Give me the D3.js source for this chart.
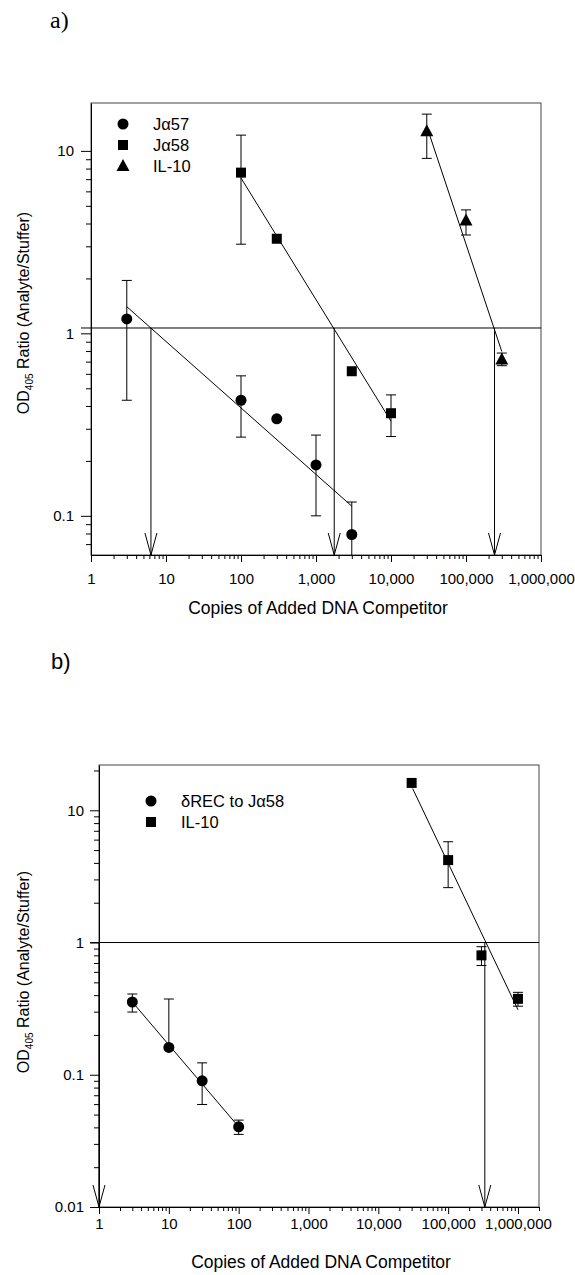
<!DOCTYPE html>
<html>
<head>
<meta charset="utf-8">
<script src="https://cdn.jsdelivr.net/npm/d3@7"></script>
<style>
  body { margin: 0; background: #fff; }
  svg { display: block; font-family: "Liberation Sans", Arial, sans-serif; }
</style>
</head>
<body>
<svg id="viz" width="575" height="1275"></svg>
<script>
// ---- panel a data ----
const ja57X = [3, 100, 300, 1000, 3000];
const ja57Y = [1.2, 0.43, 0.34, 0.19, 0.079];
const ja57Hi = [1.95, 0.585, null, 0.277, 0.119];
const ja57Lo = [0.43, 0.27, null, 0.1, 0.04];
const ja57Fit = [[3, 1.4], [3000, 0.113]];

const ja58X = [100, 300, 3000, 10000];
const ja58Y = [7.6, 3.3, 0.62, 0.365];
const ja58Hi = [12.2, null, null, 0.46];
const ja58Lo = [3.08, null, null, 0.272];
const ja58Fit = [[100, 7.1], [10000, 0.33]];

const il10aX = [30000, 100000, 300000];
const il10aY = [12.8, 4.15, 0.72];
const il10aHi = [15.9, 4.75, 0.78];
const il10aLo = [9.1, 3.46, 0.665];
const il10aFit = [[33000, 12.1], [300000, 0.795]];

const refA = 1.07;
const arrowsA = [6.3, 1750, 240000];

// ---- panel b data ----
const drecX = [3, 10, 30, 100];
const drecY = [0.355, 0.161, 0.09, 0.0404];
const drecHi = [0.408, 0.374, 0.123, 0.0454];
const drecLo = [0.298, null, 0.0596, 0.0354];
const drecFit = [[3, 0.355], [100, 0.0404]];

const il10bX = [30000, 100000, 300000, 1000000];
const il10bY = [16.1, 4.2, 0.8, 0.375];
const il10bHi = [null, 5.78, 0.93, 0.42];
const il10bLo = [null, 2.6, 0.67, 0.33];
const il10bFit = [[31000, 14.6], [1000000, 0.31]];

const refB = 1;
const arrowsB = [1, 335000];

// tick labels
const xTicksA = [1, 10, 100, 1000, 10000, 100000, 1000000];
const yTicksA = [0.1, 1, 10];
const xTicksB = [1, 10, 100, 1000, 10000, 100000, 1000000];
const yTicksB = [0.01, 0.1, 1, 10];

const svg = d3.select("#viz");

function minorTicks(domain) {
  const out = [];
  const lo = Math.floor(Math.log10(domain[0])), hi = Math.ceil(Math.log10(domain[1]));
  for (let e = lo; e <= hi; e++) {
    for (let m = 2; m <= 9; m++) {
      const v = +(m * Math.pow(10, e)).toPrecision(6);
      if (v >= domain[0] && v <= domain[1]) out.push(v);
    }
  }
  return out;
}

function fmtY(d) {
  return d >= 1 ? String(d) : String(+d.toPrecision(1));
}

function drawPanel(p) {
  const g = svg.append("g");
  const x = d3.scaleLog().domain(p.xDomain).range([p.left, p.right]);
  const y = d3.scaleLog().domain(p.yDomain).range([p.bottom, p.top]);

  const clipId = "clip" + p.id;
  g.append("clipPath").attr("id", clipId)
    .append("rect")
    .attr("x", p.left).attr("y", p.top)
    .attr("width", p.right - p.left).attr("height", p.bottom - p.top);

  // frame
  g.append("rect")
    .attr("x", p.left).attr("y", p.top)
    .attr("width", p.right - p.left).attr("height", p.bottom - p.top)
    .attr("fill", "none").attr("stroke", "#444").attr("stroke-width", 1);

  // axes
  g.append("g").attr("transform", `translate(0,${p.bottom})`)
    .call(d3.axisBottom(x).tickValues(p.xTicks).tickFormat(d3.format(","))
      .tickSize(7).tickPadding(p.xPad).tickSizeOuter(0));
  g.append("g").attr("transform", `translate(0,${p.bottom})`)
    .call(d3.axisBottom(x).tickValues(minorTicks(p.xDomain)).tickFormat("")
      .tickSize(4).tickSizeOuter(0))
    .select(".domain").remove();

  g.append("g").attr("transform", `translate(${p.left},0)`)
    .call(d3.axisLeft(y).tickValues(p.yTicks).tickFormat(fmtY)
      .tickSize(p.yTick).tickPadding(p.yPad).tickSizeOuter(0));
  g.append("g").attr("transform", `translate(${p.left},0)`)
    .call(d3.axisLeft(y).tickValues(minorTicks(p.yDomain)).tickFormat("")
      .tickSize(5).tickSizeOuter(0))
    .select(".domain").remove();

  g.selectAll(".tick text").attr("font-size", 15).attr("fill", "#000")
    .attr("font-family", "Liberation Sans, Arial, sans-serif");
  g.selectAll(".tick line, .domain").attr("stroke", "#000");

  // axis titles
  g.append("text")
    .attr("x", (p.left + p.right) / 2 + 2).attr("y", p.xTitleY)
    .attr("text-anchor", "middle").attr("font-size", 17.5)
    .text("Copies of Added DNA Competitor");

  const yt = g.append("text")
    .attr("transform", `translate(${p.yTitleX},${p.yTitleY}) rotate(-90)`)
    .attr("text-anchor", "middle").attr("font-size", 16);
  yt.append("tspan").text("OD");
  yt.append("tspan").attr("font-size", 10).attr("dy", 4).text("405");
  yt.append("tspan").attr("dy", -4).text(" Ratio (Analyte/Stuffer)");

  // reference line (extends left through the axis as a tick)
  g.append("line")
    .attr("x1", p.left - p.yTick).attr("x2", p.right)
    .attr("y1", y(p.ref)).attr("y2", y(p.ref))
    .attr("stroke", "#000").attr("stroke-width", 1);

  // arrows down to the x axis
  p.arrows.forEach(ax => {
    const xx = x(ax);
    g.append("line")
      .attr("x1", xx).attr("x2", xx)
      .attr("y1", y(p.ref)).attr("y2", p.bottom)
      .attr("stroke", "#000").attr("stroke-width", 1);
    g.append("path")
      .attr("d", `M${xx - 6},${p.bottom - 22}L${xx},${p.bottom}L${xx + 6},${p.bottom - 22}`)
      .attr("fill", "none").attr("stroke", "#000").attr("stroke-width", 1);
  });

  const plot = g.append("g").attr("clip-path", `url(#${clipId})`);

  p.series.forEach(s => {
    // fit line
    plot.append("line")
      .attr("x1", x(s.fit[0][0])).attr("y1", y(s.fit[0][1]))
      .attr("x2", x(s.fit[1][0])).attr("y2", y(s.fit[1][1]))
      .attr("stroke", "#000").attr("stroke-width", 1);

    // error bars
    s.xs.forEach((xv, i) => {
      const cx = x(xv), cy = y(s.ys[i]);
      [s.hi[i], s.lo[i]].forEach(e => {
        if (e == null) return;
        plot.append("line")
          .attr("x1", cx).attr("x2", cx).attr("y1", cy).attr("y2", y(e))
          .attr("stroke", "#000").attr("stroke-width", 1);
        plot.append("line")
          .attr("x1", cx - 5).attr("x2", cx + 5).attr("y1", y(e)).attr("y2", y(e))
          .attr("stroke", "#000").attr("stroke-width", 1);
      });
    });

    // markers
    s.xs.forEach((xv, i) => {
      drawMarker(plot, s.shape, x(xv), y(s.ys[i]));
    });
  });

  // legend
  p.series.forEach((s, i) => {
    const ly = p.legendY + i * p.legendStep;
    drawMarker(g, s.shape, p.legendX, ly);
    g.append("text")
      .attr("x", p.legendX + 30).attr("y", ly).attr("dy", "0.36em")
      .attr("font-size", 16.5).text(s.name);
  });
}

function drawMarker(g, shape, cx, cy) {
  if (shape === "circle") {
    g.append("circle").attr("cx", cx).attr("cy", cy).attr("r", 5.5).attr("fill", "#000");
  } else if (shape === "square") {
    g.append("rect").attr("x", cx - 5).attr("y", cy - 5)
      .attr("width", 10).attr("height", 10).attr("fill", "#000");
  } else {
    g.append("path")
      .attr("d", `M${cx},${cy - 7}L${cx + 6.5},${cy + 5}L${cx - 6.5},${cy + 5}Z`)
      .attr("fill", "#000");
  }
}

// panel labels
svg.append("text").attr("x", 50).attr("y", 28)
  .attr("font-family", "Liberation Serif, Times New Roman, serif")
  .attr("font-size", 24).text("a)");
svg.append("text").attr("x", 51).attr("y", 669)
  .attr("font-size", 22).text("b)");

drawPanel({
  id: "a",
  left: 91, right: 541, top: 103, bottom: 555,
  xDomain: [1, 1e6], yDomain: [0.061, 18.3],
  xTicks: xTicksA, yTicks: yTicksA,
  xPad: 11, yTick: 10, yPad: 7,
  xTitleY: 614, yTitleX: 29, yTitleY: 313,
  ref: refA, arrows: arrowsA,
  legendX: 123, legendY: 124, legendStep: 21,
  series: [
    { name: "J\u03b157", shape: "circle", xs: ja57X, ys: ja57Y, hi: ja57Hi, lo: ja57Lo, fit: ja57Fit },
    { name: "J\u03b158", shape: "square", xs: ja58X, ys: ja58Y, hi: ja58Hi, lo: ja58Lo, fit: ja58Fit },
    { name: "IL-10", shape: "triangle", xs: il10aX, ys: il10aY, hi: il10aHi, lo: il10aLo, fit: il10aFit }
  ]
});

drawPanel({
  id: "b",
  left: 99, right: 539, top: 765, bottom: 1207,
  xDomain: [1, 2e6], yDomain: [0.01, 22],
  xTicks: xTicksB, yTicks: yTicksB,
  xPad: 4, yTick: 9, yPad: 6,
  xTitleY: 1268, yTitleX: 29, yTitleY: 972,
  ref: refB, arrows: arrowsB,
  legendX: 151, legendY: 801, legendStep: 21,
  series: [
    { name: "\u03b4REC to J\u03b158", shape: "circle", xs: drecX, ys: drecY, hi: drecHi, lo: drecLo, fit: drecFit },
    { name: "IL-10", shape: "square", xs: il10bX, ys: il10bY, hi: il10bHi, lo: il10bLo, fit: il10bFit }
  ]
});
</script>
</body>
</html>
